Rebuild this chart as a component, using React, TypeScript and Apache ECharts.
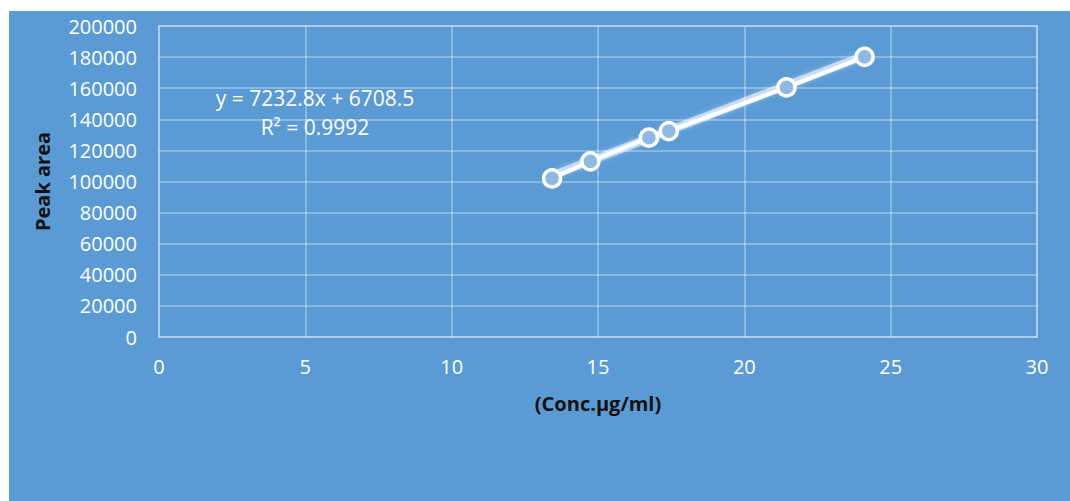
import React, { useEffect, useRef } from "react";
import * as echarts from "echarts";

const concentrations = [13.43, 14.74, 16.74, 17.42, 21.44, 24.11];
const peakAreas = [102000, 113000, 128200, 132400, 160500, 180200];
const slope = 7232.8;
const intercept = 6708.5;
const equationText = "y = 7232.8x + 6708.5";
const r2Text = "R² = 0.9992";
const xAxisTitle = "(Conc.µg/ml)";
const yAxisTitle = "Peak area";

const FONT = "'Open Sans', 'Liberation Sans', sans-serif";

export default function App() {
  const ref = useRef<HTMLDivElement>(null);
  useEffect(() => {
    document.body.style.margin = "0";
    const chart = echarts.init(ref.current!, null, { renderer: "svg" });
    const points = concentrations.map((x, i) => [x, peakAreas[i]]);
    const xMin = Math.min(...concentrations);
    const xMax = Math.max(...concentrations);
    const trend = [
      [xMin, slope * xMin + intercept],
      [xMax, slope * xMax + intercept],
    ];
    chart.setOption({
      animation: false,
      backgroundColor: "#5B9BD5",
      textStyle: { fontFamily: FONT },
      grid: { left: 150, top: 15, right: 33, bottom: 164, containLabel: false },
      xAxis: {
        type: "value",
        min: 0,
        max: 30,
        interval: 5,
        name: xAxisTitle,
        nameLocation: "middle",
        nameGap: 56,
        nameTextStyle: { color: "#111", fontWeight: "bold", fontSize: 20, fontFamily: FONT },
        axisLine: { show: false },
        axisTick: { show: false },
        axisLabel: { color: "#fff", fontSize: 20, margin: 19, fontFamily: FONT },
        splitLine: { show: true, lineStyle: { color: "rgba(255,255,255,0.4)", width: 1.5 } },
      },
      yAxis: {
        type: "value",
        min: 0,
        max: 200000,
        interval: 20000,
        name: yAxisTitle,
        nameLocation: "middle",
        nameRotate: 90,
        nameGap: 107,
        nameTextStyle: { color: "#111", fontWeight: "bold", fontSize: 20, fontFamily: FONT },
        axisLine: { show: false },
        axisTick: { show: false },
        axisLabel: {
          color: "#fff",
          fontSize: 20,
          margin: 22,
          fontFamily: FONT,
          formatter: (v: number) => String(v),
        },
        splitLine: { show: true, lineStyle: { color: "rgba(255,255,255,0.4)", width: 1.5 } },
      },
      graphic: [
        {
          type: "rect",
          shape: { x: 150, y: 15, width: 878, height: 311 },
          style: { fill: "none", stroke: "rgba(255,255,255,0.4)", lineWidth: 1.5 },
          silent: true,
        },
        {
          type: "text",
          x: 306,
          y: 87,
          style: {
            text: equationText,
            fill: "#fff",
            font: `21px ${FONT}`,
            textAlign: "center",
            textVerticalAlign: "middle",
          },
        },
        {
          type: "text",
          x: 306,
          y: 116,
          style: {
            text: r2Text,
            fill: "#fff",
            font: `21px ${FONT}`,
            textAlign: "center",
            textVerticalAlign: "middle",
          },
        },
      ],
      series: [
        {
          type: "line",
          data: trend,
          showSymbol: false,
          symbol: "none",
          z: 1,
          lineStyle: {
            color: "rgba(255,255,255,0.55)",
            width: 8,
            shadowColor: "rgba(255,255,255,0.6)",
            shadowBlur: 4,
          },
        },
        {
          type: "line",
          data: points,
          symbol: "circle",
          symbolSize: 17,
          z: 3,
          lineStyle: { color: "#fff", width: 4 },
          itemStyle: { color: "#8DB9E3", borderColor: "#fff", borderWidth: 3.5 },
        },
      ],
    });
    return () => chart.dispose();
  }, []);
  return (
    <div
      ref={ref}
      style={{ position: "absolute", left: 9, top: 11, width: 1061, height: 490 }}
    />
  );
}
